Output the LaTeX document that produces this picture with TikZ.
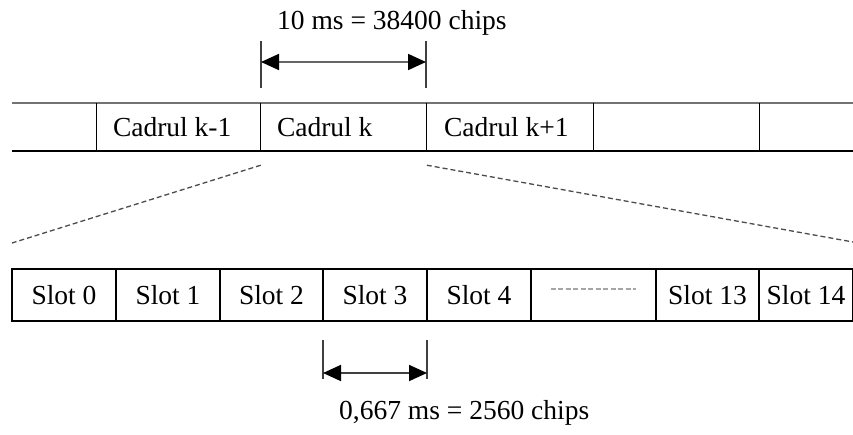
\documentclass[tikz,border=0pt]{standalone}
\usepackage{fontspec}
\setmainfont{Liberation Serif}
\usetikzlibrary{arrows.meta}
\begin{document}
\begin{tikzpicture}[x=1pt,y=-1pt,
  txt/.style={font=\fontsize{27.5}{31}\selectfont, inner sep=0pt, text=black},
  slotbox/.style={draw=black, line width=1.4pt, minimum height=52pt, inner sep=0pt,
    font=\fontsize{27.5}{31}\selectfont, text=black},
  framecell/.style={minimum height=48pt, inner sep=0pt},
  topline/.style={draw=black!55, line width=1.6pt},
  botline/.style={draw=black, line width=1.7pt},
  divider/.style={draw=black, line width=1.3pt},
  zoomline/.style={draw=black!70, line width=1.3pt, dash pattern=on 5pt off 3pt},
  tick/.style={draw=black!75, line width=1.2pt},
  dimarrow/.style={draw=black!60, line width=1.8pt,
    {Triangle[length=18pt,width=16pt,color=black]}-{Triangle[length=18pt,width=16pt,color=black]}},
  graydash/.style={draw=black!35, line width=1.8pt, dash pattern=on 5pt off 2.5pt}
]
\useasboundingbox (0,0) rectangle (853,434);

% ---- frame row ----
\node[framecell, minimum width=85pt]  (f0) at (54.5,127) {};
\node[framecell, minimum width=164pt] (f1) at (179,127) {};
\node[framecell, minimum width=166pt] (f2) at (344,127) {};
\node[framecell, minimum width=167pt] (f3) at (510.5,127) {};
\node[framecell, minimum width=166pt] (f4) at (677,127) {};
\node[framecell, minimum width=93pt]  (f5) at (806.5,127) {};

\draw[topline] (f0.north west) -- (f5.north east);
\draw[botline] (f0.south west) -- (f5.south east);
\foreach \c in {f1,f2,f3,f4,f5}
  \draw[divider] (\c.north west) -- (\c.south west);

\node[txt, anchor=west] (l1) at ([xshift=16pt]f1.west) {Cadrul k-1};
\node[txt, anchor=west] (l2) at ([xshift=16pt]f2.west) {Cadrul k};
\node[txt, anchor=west] (l3) at ([xshift=17pt]f3.west) {Cadrul k+1};

% ---- top dimension ----
\node[txt, anchor=west] (ttop) at (277,23) {10 ms = 38400 chips};
\coordinate (ta) at (261,41);
\coordinate (tb) at (261,88);
\coordinate (tc) at (426,41);
\coordinate (td) at (426,88);
\draw[tick] (ta) -- (tb);
\draw[tick] (tc) -- (td);
\coordinate (aL) at (261,62);
\coordinate (aR) at (426,62);
\draw[dimarrow] (aL) -- (aR);

% ---- slot row ----
\node[slotbox, minimum width=104pt] (s0) at (64,295) {Slot 0};
\node[slotbox, minimum width=104pt] (s1) at (168,295) {Slot 1};
\node[slotbox, minimum width=103pt] (s2) at (271.5,295) {Slot 2};
\node[slotbox, minimum width=104pt] (s3) at (375,295) {Slot 3};
\node[slotbox, minimum width=104pt] (s4) at (479,295) {Slot 4};
\node[slotbox, minimum width=125pt] (s5) at (593.5,295) {};
\node[slotbox, minimum width=103pt] (s6) at (707.5,295) {Slot 13};
\node[slotbox, minimum width=94pt]  (s7) at (806,295) {Slot 14};
\draw[graydash] ([xshift=-43pt,yshift=6pt]s5.center) -- ([xshift=42pt,yshift=6pt]s5.center);

% ---- zoom lines ----
\coordinate (dl) at (12,243);
\coordinate (dr) at (853,242);
\draw[zoomline] ([yshift=-14pt]f2.south west) -- (dl);
\draw[zoomline] ([yshift=-14pt]f3.south west) -- (dr);

% ---- bottom dimension ----
\coordinate (ba) at (323,340);
\coordinate (bb) at (323,379);
\coordinate (bc) at (427,340);
\coordinate (bd) at (427,379);
\draw[tick] (ba) -- (bb);
\draw[tick] (bc) -- (bd);
\coordinate (bL) at (323,373);
\coordinate (bR) at (427,373);
\draw[dimarrow, draw=black!75] (bL) -- (bR);
\node[txt, anchor=west] (tbot) at (339,413) {0,667 ms = 2560 chips};
\end{tikzpicture}
\end{document}
